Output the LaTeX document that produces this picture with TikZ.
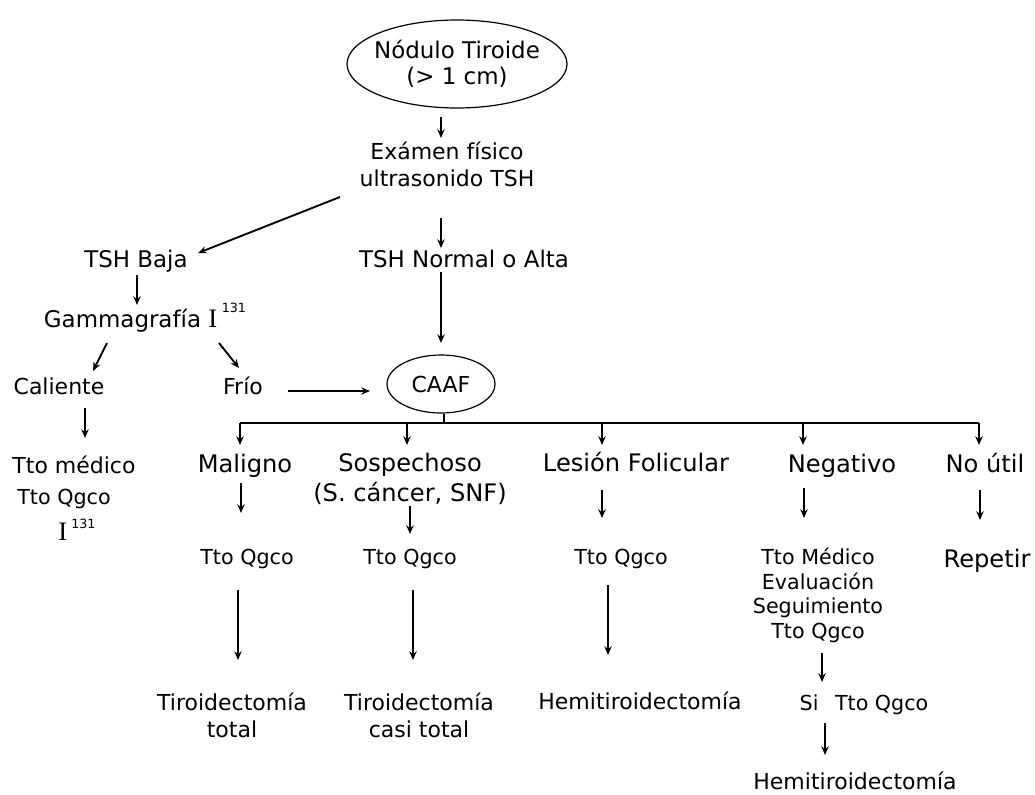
\documentclass[tikz,border=0pt]{standalone}
\usepackage{fontspec}
\setmainfont{DejaVu Sans}
\newfontfamily\serifI{Liberation Serif}
\usetikzlibrary{shapes,calc,arrows.meta}

\begin{document}
\begin{tikzpicture}[x=0.75pt,y=-0.75pt]
  \tikzstyle{txt}=[inner sep=0pt,align=center,font=\fontsize{16.5}{20.25}\selectfont]
  \tikzstyle{head}=[txt,font=\fontsize{17.2}{20}\selectfont]
  \tikzstyle{cat}=[txt,font=\fontsize{18.1}{22.5}\selectfont]
  \tikzstyle{tto}=[txt,font=\fontsize{15.5}{18.5}\selectfont]
  \tikzstyle{oval}=[ellipse,draw=black,line width=0.9pt]
  \tikzstyle{flow}=[-{Stealth[length=6.5pt,width=5.5pt]},line width=1.4pt]
  \useasboundingbox (0,0) rectangle (1035,795);

  % first steps
  \draw (457,64) node[head,oval,minimum width=165pt,minimum height=66pt,inner xsep=-6pt] (nod){Nódulo Tiroide\\(> 1 cm)};
  \draw (447,164) node[txt] (exam){Exámen físico\\ultrasonido TSH};
  \draw (136,267) node[head,anchor=base] (baja){TSH Baja};
  \draw (464,267) node[head,anchor=base] (alta){TSH Normal o Alta};
  \draw (145,327) node[head,anchor=base] (gamma){Gammagrafía {\serifI\fontsize{20}{20}\selectfont I}\hspace{3.5pt}\raisebox{11pt}{\fontsize{9.5}{11}\selectfont 131}};
  \draw (59,394) node[txt,anchor=base] (cal){Caliente};
  \draw (243,394) node[txt,anchor=base] (frio){Frío};
  \draw (441,384) node[txt,oval,minimum width=81pt,minimum height=43.5pt] (caaf){CAAF};

  % caliente
  \draw (74,473) node[txt,anchor=base] (med1){Tto médico};
  \draw (64,504) node[tto,anchor=base] (med2){Tto Qgco};
  \draw (77,540) node[txt,anchor=base] (yodo){{\serifI\fontsize{20}{20}\selectfont I}\hspace{3pt}\raisebox{9pt}{\fontsize{9.5}{11}\selectfont 131}};

  % CAAF results
  \draw (245,472) node[cat,anchor=base] (malig){Maligno};
  \draw (410,478.5) node[cat] (sosp){Sospechoso\\(S. cáncer, SNF)};
  \draw (636,471) node[cat,anchor=base] (lesion){Lesión Folicular};
  \draw (842,472) node[cat,anchor=base] (neg){Negativo};
  \draw (985,472) node[cat,anchor=base] (noutil){No útil};

  \draw (247,564) node[tto,anchor=base] (tq1){Tto Qgco};
  \draw (410,564) node[tto,anchor=base] (tq2){Tto Qgco};
  \draw (621,564) node[tto,anchor=base] (tq3){Tto Qgco};
  \draw (818,595.5) node[tto] (seg){Tto Médico\\Evaluación\\Seguimiento\\Tto Qgco};
  \draw (987,567) node[cat,anchor=base] (rep){Repetir};

  \draw (232,715) node[txt] (tt1){Tiroidectomía\\total};
  \draw (419,715) node[txt] (tt2){Tiroidectomía\\casi total};
  \draw (640,709) node[txt,anchor=base] (hemi1){Hemitiroidectomía};
  \draw (864,710) node[tto,anchor=base] (si){Si\hspace{0.8em}Tto Qgco};
  \draw (855,789) node[txt,anchor=base] (hemi2){Hemitiroidectomía};

  % arrows top part
  \draw[flow] ($(nod.center)+(-16,53)$) -- ($(exam.center)+(-6,-26)$);
  \draw[flow] ($(exam.center)+(-107,33)$) -- ($(baja.base)+(62,-14)$);
  \draw[flow] ($(exam.center)+(-6,54)$) -- ($(alta.base)+(-23,-19)$);
  \draw[flow] ($(baja.base)+(1,8)$) -- ($(gamma.base)+(-8,-22)$);
  \draw[flow] ($(gamma.base)+(-38,16)$) -- ($(cal.base)+(34,-23)$);
  \draw[flow] ($(gamma.base)+(74,16)$) -- ($(frio.base)+(-4,-26)$);
  \draw[flow] ($(alta.base)+(-23,5)$) -- ($(caaf.center)+(0,-41)$);
  \draw[flow] ($(frio.base)+(45,-3)$) -- ($(caaf.center)+(-71,7)$);
  \draw[flow] ($(cal.base)+(26,14)$) -- ($(med1.base)+(11,-35)$);

  % split below CAAF
  \draw[line width=1.4pt] ($(caaf.south)+(3,0)$) -- ($(caaf.south)+(3,10)$);
  \draw[line width=1.4pt] ($(malig.base)+(-5,-49)$) -- ($(noutil.base)+(-6,-49)$);
  \draw[flow] ($(malig.base)+(-5,-49)$) -- ($(malig.base)+(-5,-27)$);
  \draw[flow] ($(sosp.center)+(-3,-55.5)$) -- ($(sosp.center)+(-3,-33.5)$);
  \draw[flow] ($(lesion.base)+(-34,-48)$) -- ($(lesion.base)+(-34,-26)$);
  \draw[flow] ($(neg.base)+(-39,-49)$) -- ($(neg.base)+(-39,-27)$);
  \draw[flow] ($(noutil.base)+(-6,-49)$) -- ($(noutil.base)+(-6,-27)$);

  % arrows lower part
  \draw[flow] ($(malig.base)+(-4,11)$) -- ($(tq1.base)+(-6,-51)$);
  \draw[flow] ($(sosp.center)+(0,27.5)$) -- ($(tq2.base)+(0,-30)$);
  \draw[flow] ($(lesion.base)+(-34,19)$) -- ($(tq3.base)+(-19,-46)$);
  \draw[flow] ($(neg.base)+(-38,16)$) -- ($(seg.center)+(-14,-77.5)$);
  \draw[flow] ($(noutil.base)+(-5,18)$) -- ($(rep.base)+(-7,-47)$);
  \draw[flow] ($(tq1.base)+(-9,26)$) -- ($(tt1.center)+(6,-55)$);
  \draw[flow] ($(tq2.base)+(3,26)$) -- ($(tt2.center)+(-6,-55)$);
  \draw[flow] ($(tq3.base)+(-13,21)$) -- ($(hemi1.base)+(-32,-54)$);
  \draw[flow] ($(seg.center)+(4,57.5)$) -- ($(si.base)+(-42,-28)$);
  \draw[flow] ($(si.base)+(-39,13)$) -- ($(hemi2.base)+(-30,-34)$);
\end{tikzpicture}
\end{document}
